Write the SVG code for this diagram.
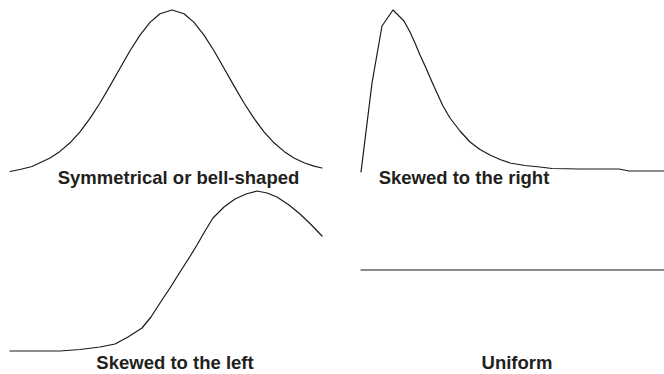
<svg xmlns="http://www.w3.org/2000/svg" width="664" height="374" viewBox="0 0 664 374">
<style>
.c{fill:none;stroke:#1a1a1a;stroke-width:1.2;stroke-linejoin:round;stroke-linecap:round}
.t{font-family:"Liberation Sans",Arial,sans-serif;font-weight:bold;font-size:18.5px;fill:#231f20}
</style>
<rect width="664" height="374" fill="#fff"/>
<g id="symmetrical">
<polyline class="c" points="10,171.5 20,169.5 32,166.5 40,162.8 50,158 60,151.4 70,142.8 80,131.8 90,118.4 100,103 110,85.9 120,68.2 130,50.8 140,35.1 150,22.4 160,13.8 172,10 184,13.8 194,22.4 204,35.1 214,50.8 224,68.2 234,85.9 244,103 254,118.4 264,131.8 274,142.8 284,151.4 294,158 304,162.8 314,166.1 322,168"/>
<text class="t" x="178.5" y="184" text-anchor="middle">Symmetrical or bell-shaped</text>
</g>
<g id="skewed-right">
<polyline class="c" points="361,172 372,83 382,26 393,10 404,21 410,32 415,43 420,55 426,68 432,82 437,93 443,106 450,118 460,131 470,142 480,149.5 490,155 500,159.5 510,163 525,165.5 540,167 552,168.5 580,169 619,169 629,171 664,171"/>
<text class="t" x="464" y="184" text-anchor="middle">Skewed to the right</text>
</g>
<g id="skewed-left">
<polyline class="c" points="10,351 60,351 80,349.5 100,347 115,344 128,337 142,328 151,317 160,303 170,288 180,272 189,258 197,245 205,231 213,218 224,207 235,199 246,194 257,191 267,193 277,197 289,205 300,214 311,224.5 322,236"/>
<text class="t" x="175" y="369" text-anchor="middle">Skewed to the left</text>
</g>
<g id="uniform">
<line class="c" x1="361" y1="270" x2="664" y2="270"/>
<text class="t" x="517" y="369" text-anchor="middle">Uniform</text>
</g>
</svg>
